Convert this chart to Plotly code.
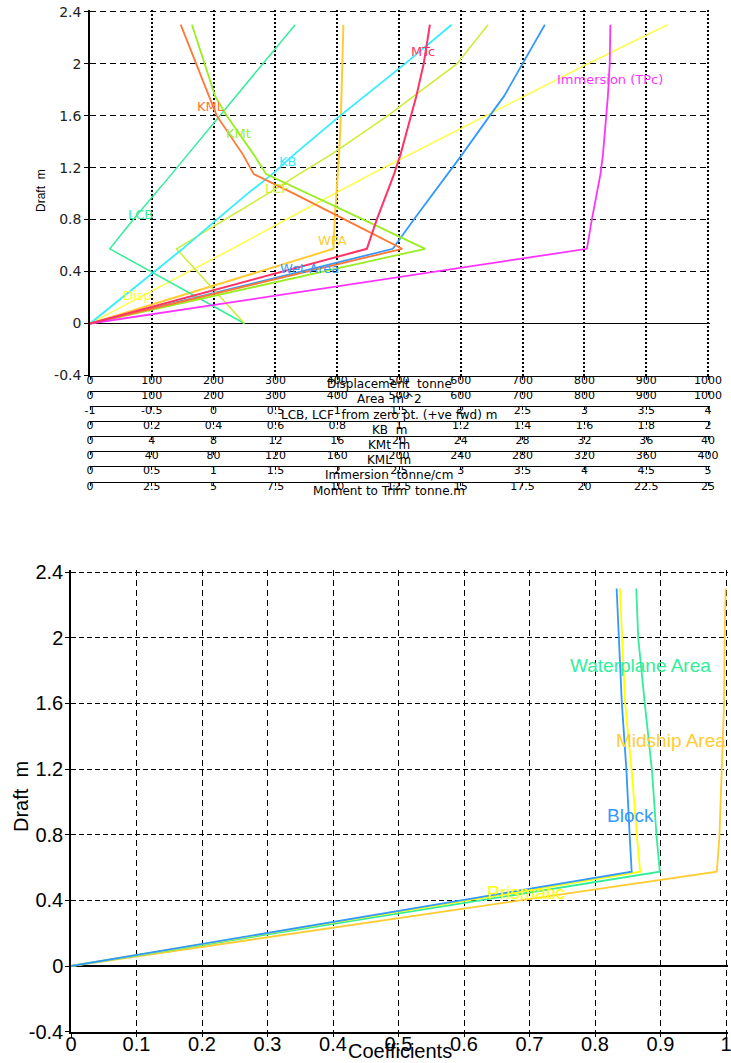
import plotly.graph_objects as go

W, H = 731, 1063

# ---------------- Top chart data (hydrostatic curves vs draft) ----------------
draft = [0, 0.575, 0.8, 1.0, 1.15, 1.3, 1.6, 1.75, 2.0, 2.3]
displacement = [0, 230, 317, 395, 455, 517, 640, 702, 806, 935]          # tonne
wpa = [0, 394, 396, 399, 401, 403, 406, 407, 409, 410]                    # m^2
wet_area = [0, 490, 524, 555, 579, 602, 647, 670, 700, 736]               # m^2
lcb = [0.25, -0.84, -0.65, -0.47, -0.34, -0.21, 0.05, 0.18, 0.40, 0.66]   # m
lcf = [0.25, -0.30, 0.09, 0.44, 0.69, 0.95, 1.41, 1.62, 1.97, 2.22]       # m
kb = [0, 0.30, 0.41, 0.51, 0.59, 0.66, 0.81, 0.89, 1.02, 1.17]            # m
kmt = [0, 21.7, 17.7, 14.1, 11.4, 10.6, 8.85, 8.1, 7.4, 6.6]              # m
kml = [0, 202, 165, 132, 106, 99, 82, 77, 69, 58.7]                       # m
tpc = [0, 4.02, 4.06, 4.10, 4.13, 4.15, 4.18, 4.19, 4.205, 4.21]          # tonne/cm
mtc = [0, 11.2, 11.6, 12.0, 12.3, 12.56, 13.0, 13.2, 13.5, 13.75]         # tonne.m

# draft axis ticks (shared by both charts)
draft_ticks = [-0.4, 0, 0.4, 0.8, 1.2, 1.6, 2, 2.4]
draft_ticktext = ["-0.4", "0", "0.4", "0.8", "1.2", "1.6", "2", "2.4"]

# stacked x-axes of the top chart
axis_titles = ["Displacement  tonne", "Area  m^2", "LCB, LCF  from zero pt. (+ve fwd) m",
               "KB  m", "KMt  m", "KML  m", "Immersion  tonne/cm", "Moment to Trim  tonne.m"]
axis_tickvals = [
    [0, 100, 200, 300, 400, 500, 600, 700, 800, 900, 1000],
    [0, 100, 200, 300, 400, 500, 600, 700, 800, 900, 1000],
    [-1, -0.5, 0, 0.5, 1, 1.5, 2, 2.5, 3, 3.5, 4],
    [0, 0.2, 0.4, 0.6, 0.8, 1, 1.2, 1.4, 1.6, 1.8, 2],
    [0, 4, 8, 12, 16, 20, 24, 28, 32, 36, 40],
    [0, 40, 80, 120, 160, 200, 240, 280, 320, 360, 400],
    [0, 0.5, 1, 1.5, 2, 2.5, 3, 3.5, 4, 4.5, 5],
    [0, 2.5, 5, 7.5, 10, 12.5, 15, 17.5, 20, 22.5, 25],
]
axis_ticktext = [
    ["0", "100", "200", "300", "400", "500", "600", "700", "800", "900", "1000"],
    ["0", "100", "200", "300", "400", "500", "600", "700", "800", "900", "1000"],
    ["-1", "-0.5", "0", "0.5", "1", "1.5", "2", "2.5", "3", "3.5", "4"],
    ["0", "0.2", "0.4", "0.6", "0.8", "1", "1.2", "1.4", "1.6", "1.8", "2"],
    ["0", "4", "8", "12", "16", "20", "24", "28", "32", "36", "40"],
    ["0", "40", "80", "120", "160", "200", "240", "280", "320", "360", "400"],
    ["0", "0.5", "1", "1.5", "2", "2.5", "3", "3.5", "4", "4.5", "5"],
    ["0", "2.5", "5", "7.5", "10", "12.5", "15", "17.5", "20", "22.5", "25"],
]

# ---------------- Bottom chart data (coefficients vs draft) ----------------
coef_draft = [0, 0.575, 0.79, 1.19, 1.6, 2.0, 2.3]
block = [0, 0.856, 0.853, 0.848, 0.841, 0.836, 0.833]
prismatic = [0, 0.869, 0.864, 0.856, 0.846, 0.841, 0.838]
waterplane = [0, 0.899, 0.894, 0.887, 0.876, 0.866, 0.863]
midship = [0, 0.986, 0.990, 0.993, 0.997, 0.998, 0.9995]
coef_ticks = [0, 0.1, 0.2, 0.3, 0.4, 0.5, 0.6, 0.7, 0.8, 0.9, 1]
coef_ticktext = ["0", "0.1", "0.2", "0.3", "0.4", "0.5", "0.6", "0.7", "0.8", "0.9", "1"]

SMALL = "DejaVu Sans"
BIG = "Liberation Sans, Arial, sans-serif"

fig = go.Figure()

axis_ids = ["x", "x3", "x4", "x5", "x6", "x7", "x8", "x9"]

top_series = [
    (displacement, 0, "#ffff33", 1.3),
    (wpa, 1, "#ffcc33", 2.0),
    (wet_area, 1, "#3399ff", 1.8),
    (lcb, 2, "#33ee99", 1.5),
    (lcf, 2, "#ccee33", 1.5),
    (kb, 3, "#33eeff", 1.8),
    (kmt, 4, "#99ee22", 1.8),
    (kml, 5, "#ff7733", 1.8),
    (tpc, 6, "#ff33ff", 1.8),
    (mtc, 7, "#ff3366", 2.0),
]
for vals, ai, col, lw in top_series:
    fig.add_trace(go.Scatter(x=vals, y=draft, mode="lines", xaxis=axis_ids[ai], yaxis="y",
                             line=dict(color=col, width=lw), showlegend=False, hoverinfo="skip"))

bottom_series = [
    (midship, "#ffcc33"),
    (waterplane, "#33ee99"),
    (prismatic, "#ffff00"),
    (block, "#3399ff"),
]
for vals, col in bottom_series:
    fig.add_trace(go.Scatter(x=vals, y=coef_draft, mode="lines", xaxis="x2", yaxis="y2",
                             line=dict(color=col, width=1.8), showlegend=False, hoverinfo="skip"))


def fx(px):
    return px / W


def fy(py):
    return 1 - py / H


EXT = 2.0  # px the plot area extends past the last tick so its grid line is kept


def ext_range(r, span_px):
    return [r[0], r[1] + EXT * (r[1] - r[0]) / span_px]


TOP_X0, TOP_X1 = 90, 708
TOP_YB, TOP_YT = 375.5, 11.7
BOT_X0, BOT_X1 = 71, 726
BOT_YB, BOT_YT = 1031.7, 572
row_lines = [375.5, 391, 406, 421, 436, 451, 466, 482]
top_w = TOP_X1 - TOP_X0

layout = dict(
    width=W, height=H,
    margin=dict(l=0, r=0, t=0, b=0, autoexpand=False),
    paper_bgcolor="white", plot_bgcolor="white",
    showlegend=False,
    xaxis=dict(domain=[fx(TOP_X0), fx(TOP_X1 + EXT)], anchor="y",
               range=ext_range([0, 1000], top_w),
               tickmode="array", tickvals=axis_tickvals[0], ticktext=axis_ticktext[0],
               showgrid=True, gridcolor="black",
               griddash="2px,2px", gridwidth=1.5, zeroline=False, showline=True,
               linecolor="black", linewidth=1, ticks="outside", ticklen=3,
               ticklabelstandoff=-9, ticklabeloverflow="allow",
               tickcolor="black", tickfont=dict(family=SMALL, size=11, color="black")),
    yaxis=dict(domain=[fy(TOP_YB), fy(TOP_YT - EXT)], anchor="x",
               range=ext_range([-0.4, 2.4], TOP_YB - TOP_YT),
               tickmode="array", tickvals=draft_ticks, ticktext=draft_ticktext,
               showgrid=True, gridcolor="black", griddash="6px,4px",
               gridwidth=1, zeroline=True, zerolinecolor="black", zerolinewidth=1,
               showline=True, linecolor="black", linewidth=1.5, ticks="outside", ticklen=4,
               ticklabeloverflow="allow",
               tickcolor="black", tickfont=dict(family=SMALL, size=14, color="#222")),
    xaxis2=dict(domain=[fx(BOT_X0), fx(BOT_X1 + EXT)], anchor="y2",
                range=ext_range([0, 1], BOT_X1 - BOT_X0),
                tickmode="array", tickvals=coef_ticks, ticktext=coef_ticktext,
                showgrid=True, gridcolor="black", griddash="6px,4px", gridwidth=1,
                zeroline=False, showline=True, linecolor="black", linewidth=1.5,
                ticks="outside", ticklen=4, tickcolor="black", ticklabelstandoff=-10,
                ticklabeloverflow="allow",
                tickfont=dict(family=BIG, size=20, color="black")),
    yaxis2=dict(domain=[fy(BOT_YB), fy(BOT_YT - EXT)], anchor="x2",
                range=ext_range([-0.4, 2.4], BOT_YB - BOT_YT),
                tickmode="array", tickvals=draft_ticks, ticktext=draft_ticktext,
                showgrid=True, gridcolor="black", griddash="5px,3px",
                gridwidth=1, zeroline=True, zerolinecolor="black", zerolinewidth=1.5,
                showline=True, linecolor="black", linewidth=1.5, ticks="outside", ticklen=4,
                ticklabelstandoff=-2, ticklabeloverflow="allow",
                tickcolor="black", tickfont=dict(family=BIG, size=20, color="black")),
)
for i in range(1, 8):
    layout["xaxis%d" % (i + 2)] = dict(
        overlaying="x", anchor="free", position=fy(row_lines[i]),
        range=ext_range([axis_tickvals[i][0], axis_tickvals[i][-1]], top_w),
        tickmode="array", tickvals=axis_tickvals[i], ticktext=axis_ticktext[i],
        showgrid=False, zeroline=False, showline=True, linecolor="black", linewidth=1,
        ticks="outside", ticklen=3, tickcolor="black", ticklabelstandoff=-9,
        ticklabeloverflow="allow",
        tickfont=dict(family=SMALL, size=11, color="black"))
fig.update_layout(**layout)


def ann(text, px, py, color, size, family, angle=0):
    return dict(text=text, x=fx(px), y=fy(py), xref="paper", yref="paper",
                showarrow=False, xanchor="center", yanchor="middle", textangle=angle,
                font=dict(color=color, size=size, family=family))


anns = []
for i, t in enumerate(axis_titles):
    anns.append(ann(t, 389, row_lines[i] + 8.5, "black", 12, SMALL))
anns.append(ann("Draft  m", 41, 191, "black", 12, BIG, -90))

top_labels = [
    ("MTc", 423, 52, "#ff3366"),
    ("Immersion (TPc)", 610, 79, "#ff33ff"),
    ("KML", 211, 106, "#ff7733"),
    ("KMt", 238, 133, "#99ee22"),
    ("KB", 287, 161, "#33eeff"),
    ("LCF", 277, 188, "#ccee33"),
    ("LCB", 140, 214, "#33ee99"),
    ("WPA", 332, 241, "#ffcc33"),
    ("Wet Area", 309, 268, "#3399ff"),
    ("Disp.", 139, 295, "#ffff33"),
]
for t, x, y, c in top_labels:
    anns.append(ann(t, x, y, c, 13, SMALL))

bottom_labels = [
    ("Waterplane Area", 640, 665, "#33ee99"),
    ("Midship Area", 671, 740, "#ffcc33"),
    ("Block", 630, 815, "#3399ff"),
    ("Prismatic", 526, 892, "#ffff00"),
]
for t, x, y, c in bottom_labels:
    anns.append(ann(t, x, y, c, 19, BIG))
anns.append(ann("Coefficients", 400, 1051, "black", 20, BIG))
anns.append(ann("Draft  m", 21, 797, "black", 20, BIG, -90))

fig.update_layout(annotations=anns)
# remove the browser's default 8 px body margin so the figure fills the window
fig.write_html("out.html", config={"displayModeBar": False},
               post_script="document.body.style.margin='0px';")
